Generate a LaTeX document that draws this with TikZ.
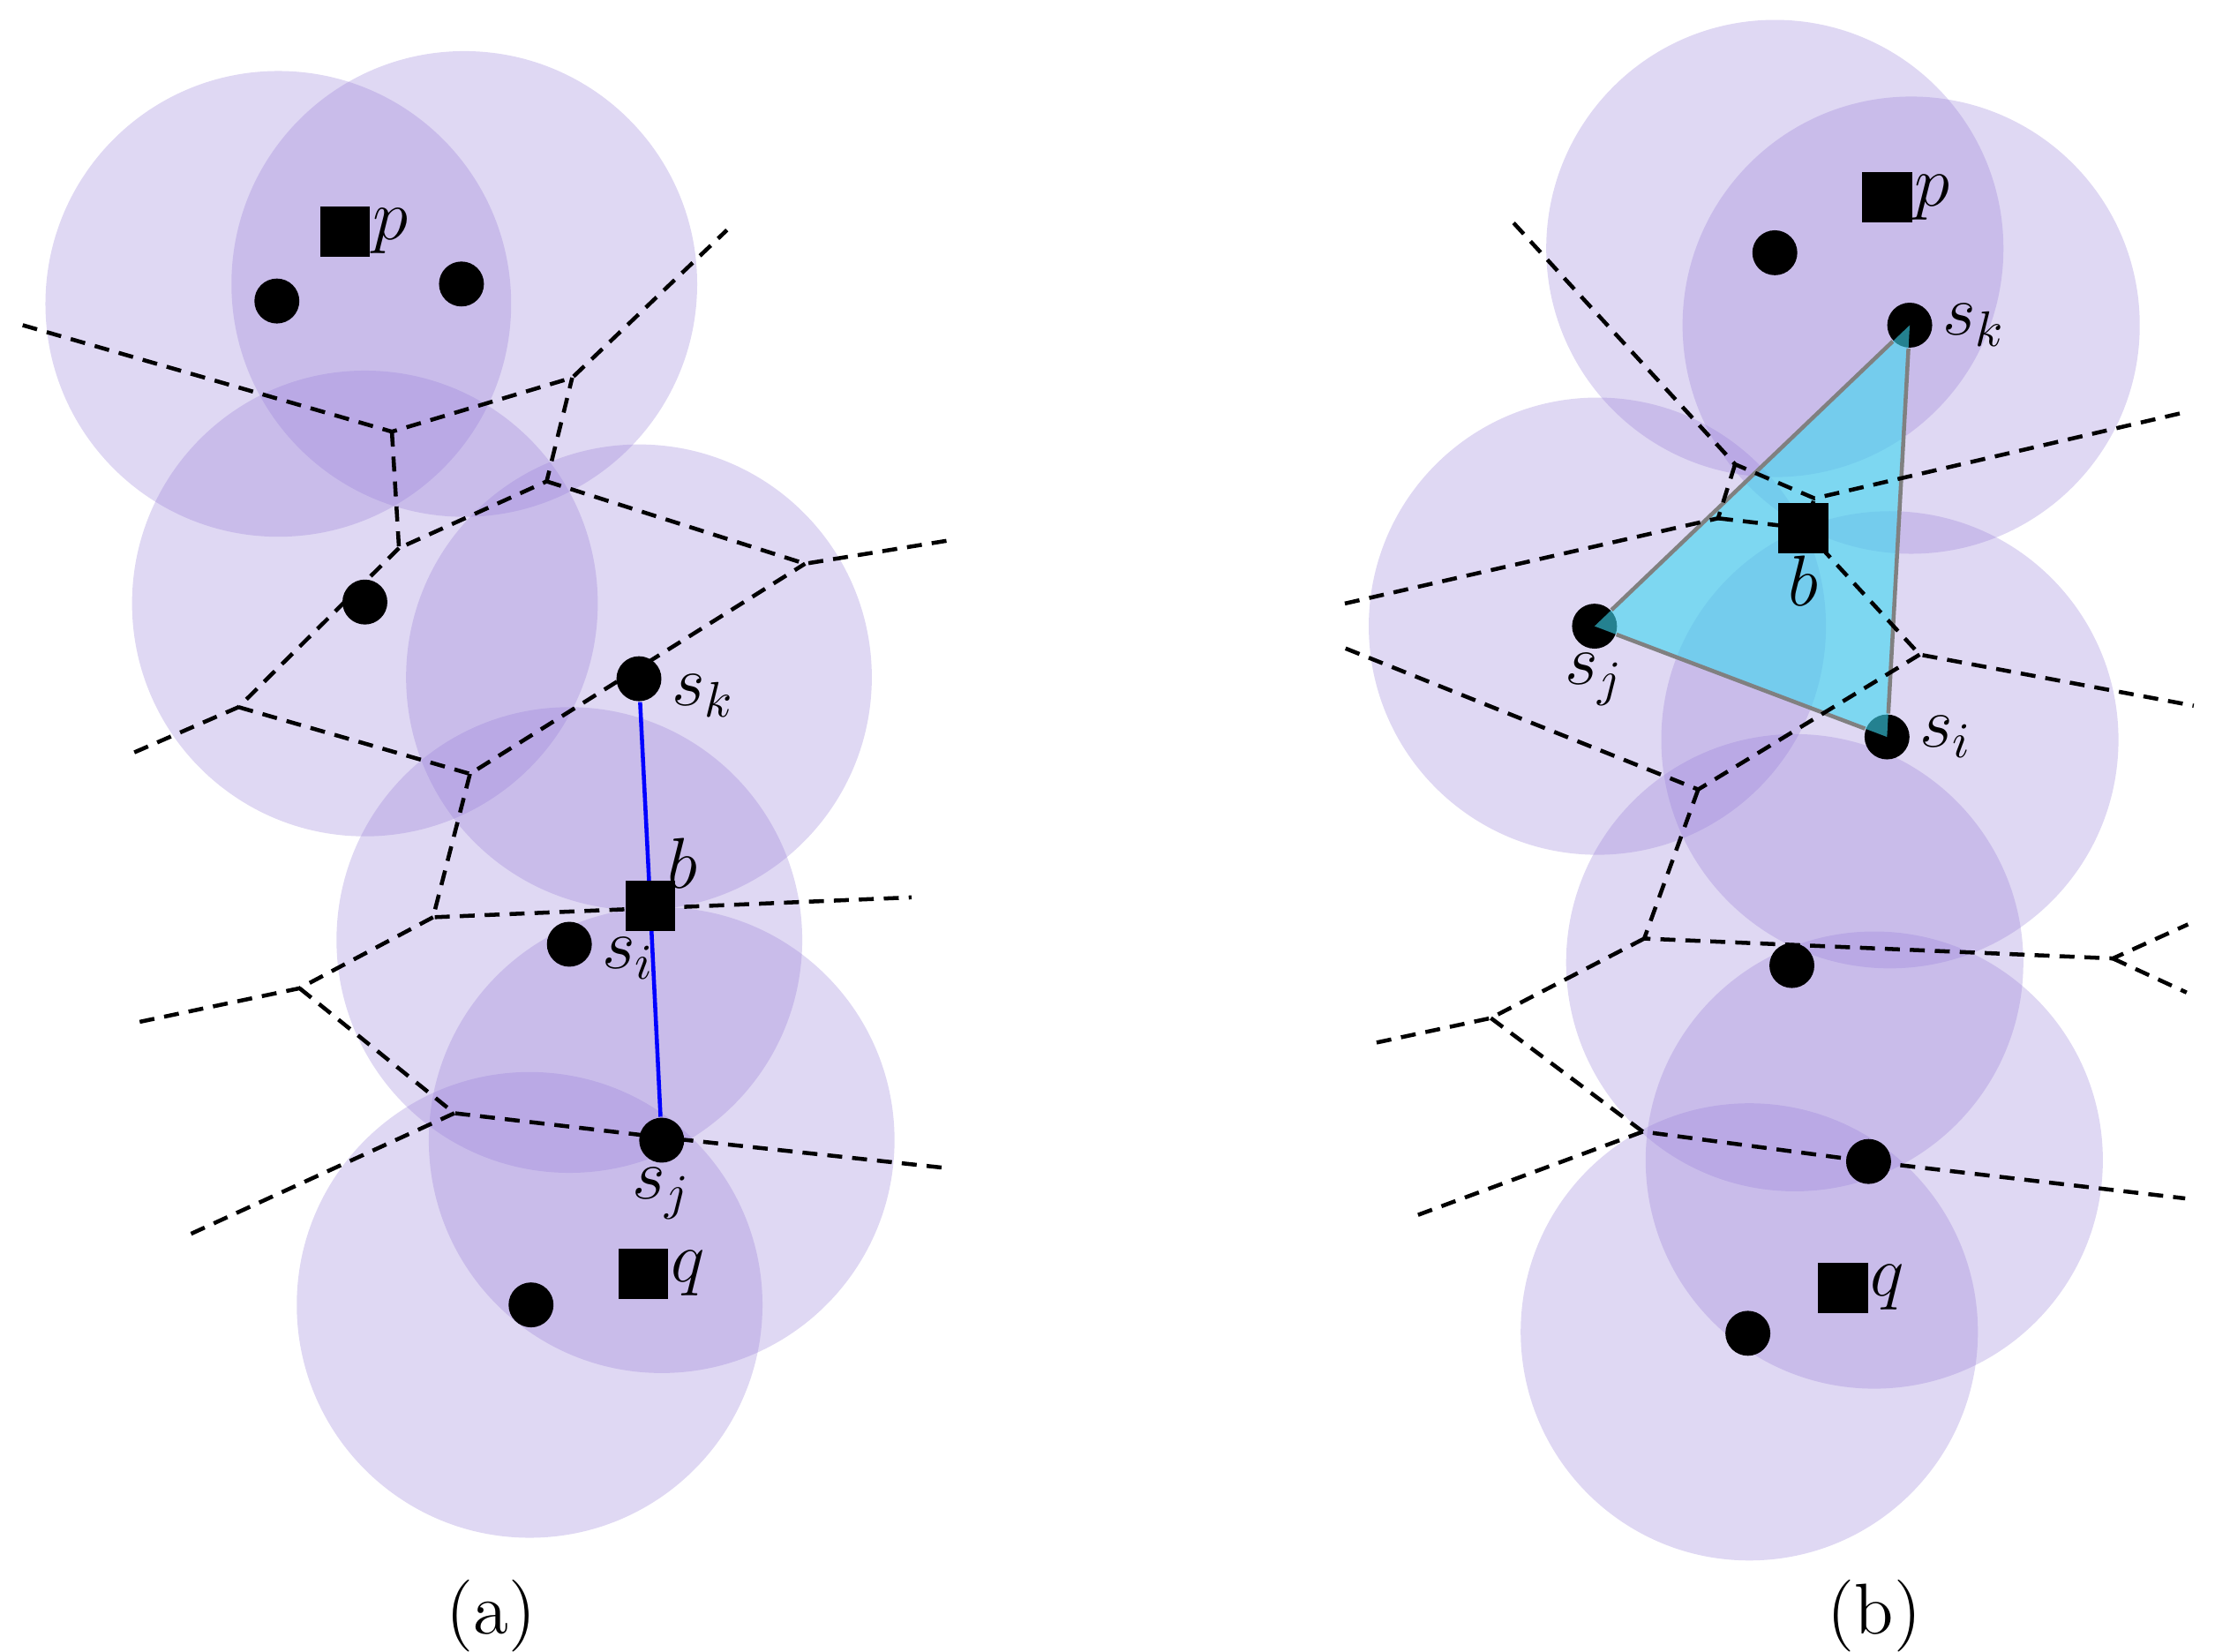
\documentclass[tikz,border=0pt]{standalone}
\usepackage{xcolor}
\definecolor{disk}{RGB}{150,125,215}
\definecolor{tri}{RGB}{60,215,240}
\usetikzlibrary{calc}
\tikzstyle{ball} = [fill=disk, fill opacity=0.3]
\tikzstyle{cell} = [densely dashed, thick]
\tikzstyle{site} = [circle, fill=black, inner sep=0pt, minimum size=9pt]
\tikzstyle{query} = [fill=black, inner sep=0pt, minimum size=10pt]
\tikzstyle{lbl} = [font=\Large]

\begin{document}
\begin{tikzpicture}[x=0.01cm,y=-0.01cm]
    \useasboundingbox (0,0) rectangle (1560,1163);
    % (a) balls
    \foreach \cx/\cy in {196/214, 327/200, 257/425, 450/477, 401/662, 466/803, 373/919}
        \fill[ball] (\cx,\cy) circle (164);
    % (a) cells
    \draw[cell] (16,229) -- (276,304) -- (403,266) -- (512,162);
    \draw[cell] (276,304) -- (281,386) -- (385,339) -- (403,266);
    \draw[cell] (385,339) -- (567,397) -- (672,380);
    \draw[cell] (281,386) -- (168,498) -- (92,531);
    \draw[cell] (168,498) -- (331,545) -- (567,397);
    \draw[cell] (331,545) -- (305,646) -- (642,632);
    \draw[cell] (305,646) -- (211,696) -- (92,721);
    \draw[cell] (211,696) -- (320,784) -- (466,801) -- (670,823);
    \draw[cell] (320,784) -- (130,871);
    % (a) sites
    \node[query] (pa) at (243,163) {};
    \node[site] at (195,212) {};
    \node[site] at (325,200) {};
    \node[site] at (257,424) {};
    \node[site] (ska) at (450,478) {};
    \node[site] (sia) at (401,665) {};
    \node[site] (sja) at (466,803) {};
    \node[site] at (374,919) {};
    \node[query] (qa) at (453,897) {};
    \coordinate (ba) at (458,638);
    \draw[blue, thick] (ska) -- (ba) -- (sja);
    \node[query] at (ba) {};
    \node[lbl, right=2pt] at (pa) {$p$};
    \node[lbl, right=2pt] at (qa) {$q$};
    \node[lbl, above right=0pt] at (ba) {$b$};
    \node[lbl, right=3pt] at ($(ska)+(0,12)$) {$s_k$};
    \node[lbl, right=3pt] at ($(sia)+(0,10)$) {$s_i$};
    \node[lbl, below=2pt] at (sja) {$s_j$};
    \node[lbl] (capa) at (346,1138) {(a)};

    % (b) balls
    \foreach \cx/\cy in {1250/175, 1346/229, 1125/441, 1331/521, 1264/678, 1320/817, 1232/938}
        \fill[ball] (\cx,\cy) circle (161);
    % (b) sites and triangle
    \node[site] (skb) at (1345,229) {};
    \node[site] (sjb) at (1123,441) {};
    \node[site] (sib) at (1329,519) {};
    \fill[tri, fill opacity=0.6] (skb.center) -- (sjb.center) -- (sib.center) -- cycle;
    \draw[gray, thick] (skb) -- (sjb) -- (sib) -- (skb);
    % (b) cells
    \draw[cell] (1066,157) -- (1222,327) -- (1278,351) -- (1536,291);
    \draw[cell] (1222,327) -- (1210,365) -- (943,426);
    \draw[cell] (1210,365) -- (1270,372) -- (1278,351);
    \draw[cell] (1270,372) -- (1352,461) -- (1545,497);
    \draw[cell] (1352,461) -- (1196,556) -- (946,456);
    \draw[cell] (1196,556) -- (1158,661) -- (1488,675) -- (1541,651);
    \draw[cell] (1488,675) -- (1540,699);
    \draw[cell] (1158,661) -- (1050,717) -- (966,735);
    \draw[cell] (1050,717) -- (1157,797) -- (1316,818) -- (1539,844);
    \draw[cell] (1157,797) -- (995,857);
    \node[query] (pb) at (1329,139) {};
    \node[site] at (1250,178) {};
    \node[site] at (1262,680) {};
    \node[site] at (1316,818) {};
    \node[site] at (1231,939) {};
    \node[query] (qb) at (1298,907) {};
    \node[query] (bb) at (1270,372) {};
    \node[lbl, right=2pt] at (pb) {$p$};
    \node[lbl, right=2pt] at (qb) {$q$};
    \node[lbl, below=2pt] at (bb) {$b$};
    \node[lbl, right=3pt] at (skb) {$s_k$};
    \node[lbl, right=3pt] at (sib) {$s_i$};
    \node[lbl, below=2pt] at (sjb) {$s_j$};
    \node[lbl] (capb) at (1320,1138) {(b)};
\end{tikzpicture}
\end{document}
